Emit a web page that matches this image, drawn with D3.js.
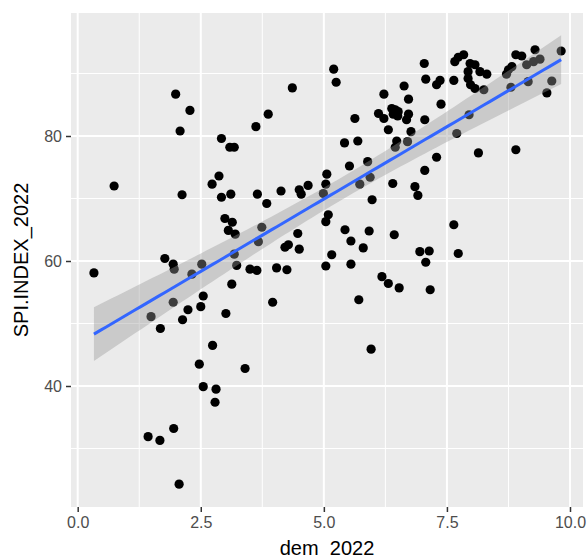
<!DOCTYPE html>
<html>
<head>
<meta charset="utf-8">
<script src="https://cdn.jsdelivr.net/npm/d3@7"></script>
<style>
  body { margin: 0; background: #fff; }
  svg { display: block; font-family: 'Liberation Sans', Arial, sans-serif; }
</style>
</head>
<body>
<div id="chart"></div>
<script>
// values (dem_2022, SPI.INDEX_2022)
const dem = [
  0.33, 0.74, 1.99, 2.28, 2.08, 2.12, 1.77, 1.94, 1.96, 1.94,
  1.49, 1.68, 2.24, 2.13, 2.50, 2.55, 3.13, 3.01, 2.74, 2.47,
  3.40, 2.55, 2.81, 2.79, 1.43, 1.67, 1.95, 2.06, 3.96, 5.71,
  5.96, 6.18, 6.31, 6.53, 7.16, 5.98, 6.91, 5.09, 5.04, 4.47,
  4.28, 4.21, 4.50, 5.43, 5.55, 5.80, 5.92, 6.43, 5.16, 5.04,
  5.55, 4.04, 4.25, 6.95, 7.14, 7.07, 2.52, 2.32, 3.87, 3.62,
  2.92, 3.09, 3.18, 2.87, 2.73, 2.92, 3.11, 3.65, 3.84, 4.13,
  2.99, 3.14, 3.06, 3.20, 3.74, 3.67, 3.18, 3.23, 3.50, 3.64,
  4.36, 5.20, 5.25, 5.63, 5.42, 5.69, 5.52, 5.89, 5.06, 5.04,
  4.99, 5.73, 5.94, 6.22, 6.11, 6.22, 6.31, 4.50, 4.54, 4.68,
  7.04, 7.66, 7.73, 7.07, 7.36, 7.29, 7.64, 6.63, 6.72, 7.38,
  6.38, 6.45, 6.51, 6.41, 6.50, 6.72, 6.68, 7.05, 6.77, 6.48,
  6.70, 6.45, 7.70, 7.29, 7.05, 7.84, 7.97, 8.07, 7.93, 8.17,
  8.31, 7.93, 7.98, 8.07, 8.25, 7.95, 8.14, 8.90, 8.90, 9.02,
  9.29, 9.82, 8.75, 8.82, 8.71, 9.12, 9.26, 9.39, 9.15, 8.80,
  9.63, 9.53, 6.85, 6.40, 7.64, 7.73
];
const spi = [
  58.1, 72.0, 86.7, 84.1, 80.8, 70.6, 60.4, 59.5, 58.7, 53.4,
  51.1, 49.2, 52.2, 50.6, 52.7, 54.4, 56.3, 51.6, 46.5, 43.5,
  42.8, 39.9, 39.5, 37.4, 31.9, 31.3, 33.2, 24.3, 53.4, 53.8,
  45.9, 57.5, 56.4, 55.7, 55.4, 69.8, 70.5, 67.4, 66.3, 64.4,
  62.6, 62.2, 61.9, 65.0, 63.2, 62.1, 64.8, 64.2, 61.0, 59.2,
  59.5, 58.9, 58.6, 61.5, 61.6, 59.8, 59.5, 57.9, 83.5, 81.5,
  79.6, 78.2, 78.2, 73.6, 72.3, 70.2, 70.7, 70.7, 69.2, 71.2,
  66.8, 66.2, 64.9, 64.3, 65.4, 63.1, 61.1, 59.3, 58.7, 58.5,
  87.7, 90.7, 88.6, 82.8, 78.9, 79.2, 75.2, 75.9, 73.9, 72.3,
  70.8, 72.3, 73.4, 86.7, 83.6, 82.8, 81.0, 71.4, 70.7, 72.1,
  91.6, 91.9, 92.6, 89.1, 88.9, 88.2, 88.9, 88.0, 85.9, 85.1,
  84.4, 84.2, 83.9, 83.5, 83.2, 83.5, 82.6, 82.6, 80.7, 79.2,
  79.1, 78.2, 80.4, 76.6, 74.5, 93.0, 91.6, 91.4, 90.3, 90.3,
  89.9, 89.2, 88.2, 87.6, 87.4, 83.4, 77.3, 77.8, 93.0, 92.8,
  93.8, 93.6, 90.6, 91.1, 89.9, 91.4, 91.9, 92.3, 88.7, 87.8,
  88.8, 86.9, 71.9, 72.4, 65.8, 61.2
];
const xTicks = [0, 2.5, 5, 7.5, 10];
const yTicks = [40, 60, 80];
const xMinor = [1.25, 3.75, 6.25, 8.75];
const yMinor = [30, 50, 70, 90];

const width = 588;
const height = 558;
const panel = { left: 71, right: 583, top: 13, bottom: 507 };

const svg = d3.select('#chart')
  .append('svg')
  .attr('width', width)
  .attr('height', height);

const x = d3.scaleLinear()
  .domain([-0.136, 10.264])
  .range([panel.left, panel.right]);

const y = d3.scaleLinear()
  .domain([20.64, 99.68])
  .range([panel.bottom, panel.top]);

// grey panel + grid, theme_gray style
svg.append('rect')
  .attr('x', panel.left)
  .attr('y', panel.top)
  .attr('width', panel.right - panel.left)
  .attr('height', panel.bottom - panel.top)
  .attr('fill', '#EBEBEB');

const grid = svg.append('g').attr('stroke', '#fff');

grid.selectAll('.xminor').data(xMinor).enter().append('line')
  .attr('x1', (d) => x(d)).attr('x2', (d) => x(d))
  .attr('y1', panel.top).attr('y2', panel.bottom)
  .attr('stroke-width', 1);
grid.selectAll('.yminor').data(yMinor).enter().append('line')
  .attr('y1', (d) => y(d)).attr('y2', (d) => y(d))
  .attr('x1', panel.left).attr('x2', panel.right)
  .attr('stroke-width', 1);
grid.selectAll('.xmajor').data(xTicks).enter().append('line')
  .attr('x1', (d) => x(d)).attr('x2', (d) => x(d))
  .attr('y1', panel.top).attr('y2', panel.bottom)
  .attr('stroke-width', 2);
grid.selectAll('.ymajor').data(yTicks).enter().append('line')
  .attr('y1', (d) => y(d)).attr('y2', (d) => y(d))
  .attr('x1', panel.left).attr('x2', panel.right)
  .attr('stroke-width', 2);

// points
const pts = dem.map((d, i) => ({ x: d, y: spi[i] }));

svg.append('g')
  .selectAll('circle')
  .data(pts)
  .enter()
  .append('circle')
  .attr('cx', (d) => x(d.x))
  .attr('cy', (d) => y(d.y))
  .attr('r', 4.6)
  .attr('fill', '#000');

// lm fit with 95% band (like geom_smooth(method = 'lm'))
const n = pts.length;
const xbar = d3.mean(dem);
const ybar = d3.mean(spi);
const sxx = d3.sum(dem, (d) => (d - xbar) ** 2);
const sxy = d3.sum(pts, (d) => (d.x - xbar) * (d.y - ybar));
const slope = sxy / sxx;
const intercept = ybar - slope * xbar;
const sse = d3.sum(pts, (d) => (d.y - intercept - slope * d.x) ** 2);
const s = Math.sqrt(sse / (n - 2));
const tq = 1.976;

const [xlo, xhi] = d3.extent(dem);
const fit = d3.range(80).map((i) => {
  const xv = xlo + (i / 79) * (xhi - xlo);
  const yv = intercept + slope * xv;
  const se = s * Math.sqrt(1 / n + (xv - xbar) ** 2 / sxx);
  return { x: xv, y: yv, lo: yv - tq * se, hi: yv + tq * se };
});

svg.append('path')
  .datum(fit)
  .attr('fill', '#999999')
  .attr('fill-opacity', 0.4)
  .attr('d', d3.area()
    .x((d) => x(d.x))
    .y0((d) => y(d.lo))
    .y1((d) => y(d.hi)));

svg.append('path')
  .datum(fit)
  .attr('fill', 'none')
  .attr('stroke', '#3366FF')
  .attr('stroke-width', 3)
  .attr('d', d3.line()
    .x((d) => x(d.x))
    .y((d) => y(d.y)));

// axes
const xAxis = svg.append('g')
  .attr('transform', `translate(0, ${panel.bottom})`)
  .call(d3.axisBottom(x).tickValues(xTicks)
    .tickFormat(d3.format('.1f')).tickSize(5).tickPadding(5));

const yAxis = svg.append('g')
  .attr('transform', `translate(${panel.left}, 0)`)
  .call(d3.axisLeft(y).tickValues(yTicks).tickSize(5).tickPadding(4));

[xAxis, yAxis].forEach((g) => {
  g.select('.domain').remove();
  g.selectAll('line').attr('stroke', '#333333').attr('stroke-width', 1.5);
  g.selectAll('text')
    .attr('fill', '#4D4D4D')
    .style('font-size', '16px');
});

svg.append('text')
  .attr('x', (panel.left + panel.right) / 2)
  .attr('y', 555)
  .attr('text-anchor', 'middle')
  .style('font-size', '20px')
  .attr('fill', '#000')
  .text('dem_2022');

svg.append('text')
  .attr('transform', `translate(28, ${(panel.top + panel.bottom) / 2}) rotate(-90)`)
  .attr('text-anchor', 'middle')
  .style('font-size', '20px')
  .attr('fill', '#000')
  .text('SPI.INDEX_2022');
</script>
</body>
</html>
